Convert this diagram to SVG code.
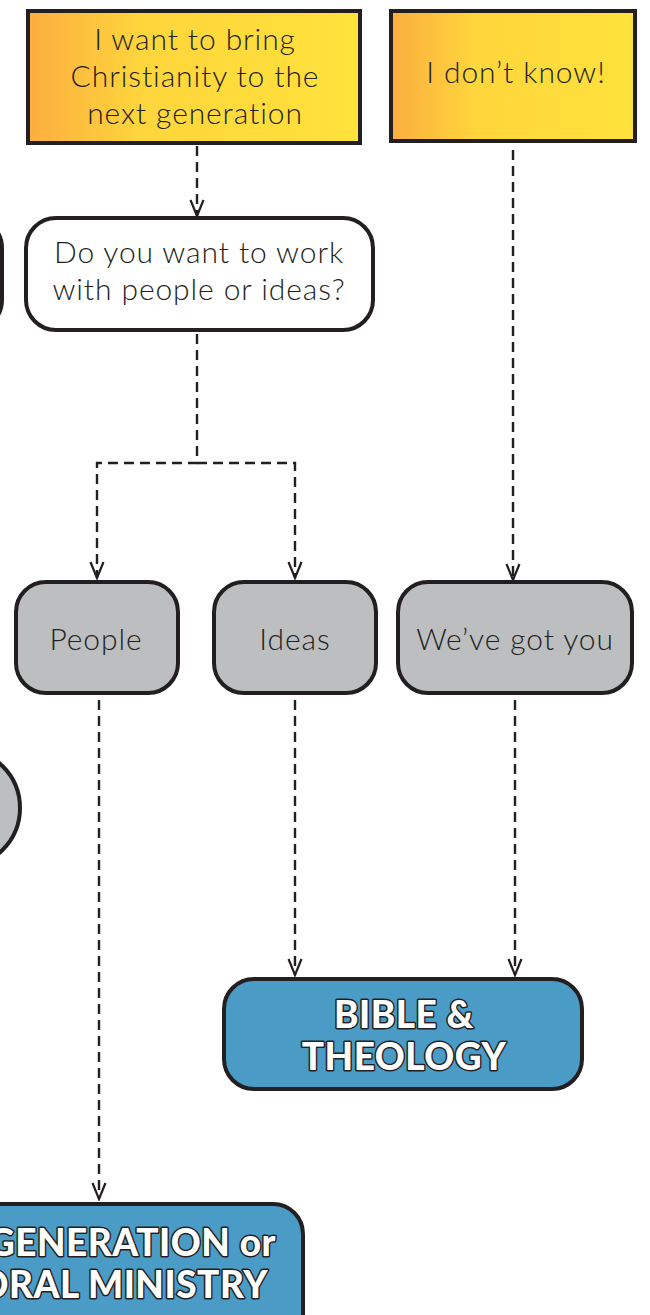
<svg xmlns="http://www.w3.org/2000/svg" width="650" height="1315" viewBox="0 0 650 1315">
<defs>
<linearGradient id="yel" x1="0" y1="0" x2="1" y2="0">
<stop offset="0" stop-color="#fbae3f"/>
<stop offset="0.35" stop-color="#ffd63c"/>
<stop offset="1" stop-color="#ffe23b"/>
</linearGradient>
<marker id="arr" viewBox="-18 -9 20 18" refX="0" refY="0" markerWidth="20" markerHeight="18" markerUnits="userSpaceOnUse" orient="auto">
<path d="M-16,-6.5 L0,0 L-16,6.5" fill="none" stroke="#231f20" stroke-width="2.2"/>
</marker>
</defs>
<style>
.box{stroke:#231f20;stroke-width:4}
.y{fill:url(#yel)}
.w{fill:#ffffff}
.g{fill:#bcbec0}
.b{fill:#4a9cc7}
.t{font-family:Lato,"Open Sans",sans-serif;font-weight:300;font-size:30px;letter-spacing:0.9px;fill:#231f20;text-anchor:middle}
.h{font-family:Lato,"Liberation Sans",sans-serif;font-weight:900;font-size:37px;letter-spacing:0.5px;fill:#ffffff;stroke:#231f20;stroke-width:3;paint-order:stroke;stroke-linejoin:round}
.c{fill:none;stroke:#231f20;stroke-width:2.4;stroke-dasharray:10 6;marker-end:url(#arr)}
</style>
<rect width="650" height="1315" fill="#ffffff"/>
<g id="connectors">
<path class="c" d="M197,146 V216"/>
<path class="c" d="M197,334 V463 H97 V578"/>
<path class="c" d="M197,463 H295 V578"/>
<path class="c" d="M513,150 V580"/>
<path class="c" d="M99,700 V1199"/>
<path class="c" d="M295,700 V975"/>
<path class="c" d="M515,700 V975"/>
</g>
<g id="left-box"><rect class="box w" x="-300" y="218" width="302" height="112" rx="30"/></g>
<g id="left-circle"><circle class="box g" cx="-39" cy="808" r="59"/></g>
<g id="bring"><rect class="box y" x="28" y="11" width="332" height="132"/>
<text class="t" x="195" y="50">I want to bring</text>
<text class="t" x="195" y="87">Christianity to the</text>
<text class="t" x="195" y="124">next generation</text></g>
<g id="dontknow"><rect class="box y" x="391" y="11" width="244" height="130"/>
<text class="t" x="516" y="83">I don’t know!</text></g>
<g id="question"><rect class="box w" x="26" y="218" width="347" height="112" rx="30"/>
<text class="t" x="199" y="263">Do you want to work</text>
<text class="t" x="199" y="300">with people or ideas?</text></g>
<g id="people"><rect class="box g" x="16" y="582" width="162" height="111" rx="30"/>
<text class="t" x="96" y="650">People</text></g>
<g id="ideas"><rect class="box g" x="214" y="582" width="162" height="111" rx="30"/>
<text class="t" x="295" y="650">Ideas</text></g>
<g id="gotyou"><rect class="box g" x="398" y="582" width="234" height="111" rx="30"/>
<text class="t" x="515" y="650">We’ve got you</text></g>
<g id="bible"><rect class="box b" x="224" y="979" width="358" height="110" rx="30"/>
<text class="h" x="404" y="1028" text-anchor="middle">BIBLE &amp;</text>
<text class="h" x="404" y="1070" text-anchor="middle">THEOLOGY</text></g>
<g id="ministry"><rect class="box b" x="-300" y="1204" width="603" height="140" rx="30"/>
<text class="h" x="276" y="1256" text-anchor="end">GENERATION or</text>
<text class="h" x="268" y="1298" text-anchor="end">ORAL MINISTRY</text></g>
</svg>
